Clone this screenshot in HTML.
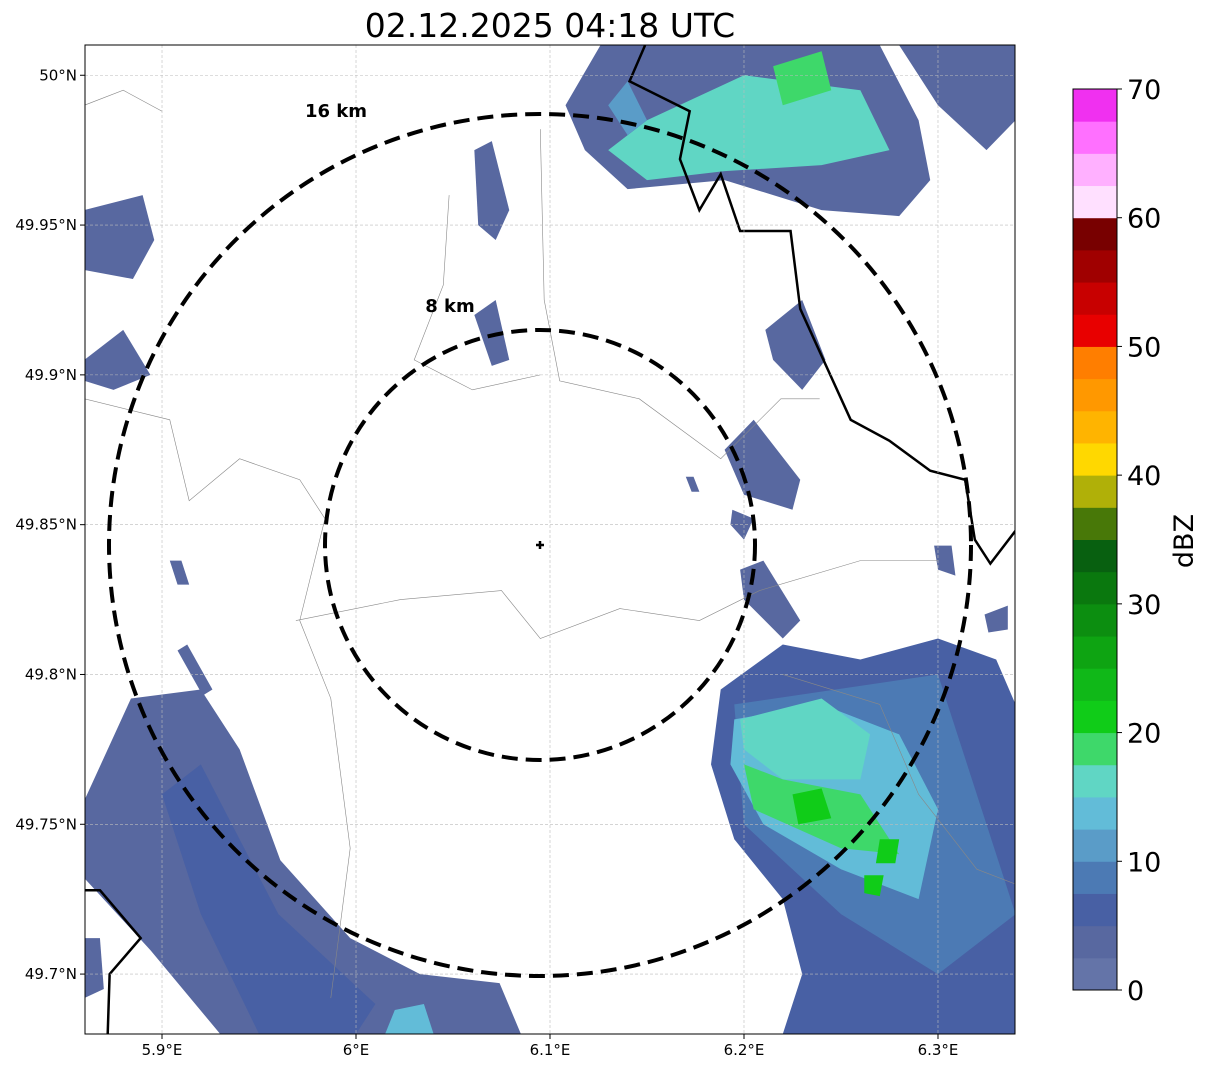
<!DOCTYPE html>
<html><head><meta charset="utf-8"><style>
body{margin:0;background:#fff;width:1207px;height:1069px;overflow:hidden}
svg{font-family:"DejaVu Sans","Liberation Sans",sans-serif}
</style></head><body>
<svg id="c" width="1207" height="1069"></svg>
<script>
const ticksLon=[5.9,6.0,6.1,6.2,6.3];
const ticksLonLbl=["5.9°E","6°E","6.1°E","6.2°E","6.3°E"];
const ticksLat=[50,49.95,49.9,49.85,49.8,49.75,49.7];
const ticksLatLbl=["50°N","49.95°N","49.9°N","49.85°N","49.8°N","49.75°N","49.7°N"];
const cbarColors=["#6474a8","#5868a0","#4860a4","#4c7ab4","#5a9cc8","#62bcd8","#60d6c4","#3ed86a","#10cc18","#10b818","#0ea412","#0c8e10","#0a780e","#086010","#487808","#b0b008","#ffd800","#ffb400","#ff9800","#ff7e00","#e80000","#c80000","#a00000","#780000","#ffe0ff","#ffb0ff","#ff70ff","#f030f0"];
const cbarTicks=[0,10,20,30,40,50,60,70];
const echoDbz=[3,15,18,3,5,8,14,17,19,21,21,21,3,7,13,3,3,3,3,3,3,3,3,3,3,3,3,3,11,3];
const echoPolys=[
[[6.108,49.99],[6.126,50.010],[6.270,50.010],[6.290,49.985],[6.296,49.965],[6.280,49.953],[6.240,49.955],[6.190,49.965],[6.140,49.962],[6.118,49.975]],
[[6.130,49.975],[6.150,49.985],[6.200,50.000],[6.260,49.995],[6.275,49.975],[6.240,49.970],[6.190,49.968],[6.150,49.965]],
[[6.215,50.003],[6.240,50.008],[6.245,49.995],[6.220,49.99]],
[[6.280,50.010],[6.340,50.010],[6.340,49.985],[6.325,49.975],[6.300,49.990]],
[[6.188,49.795],[6.220,49.810],[6.260,49.805],[6.300,49.812],[6.330,49.805],[6.340,49.790],[6.340,49.680],[6.220,49.680],[6.230,49.700],[6.220,49.725],[6.195,49.745],[6.183,49.770]],
[[6.195,49.790],[6.300,49.800],[6.320,49.760],[6.340,49.720],[6.300,49.700],[6.250,49.720],[6.200,49.750]],
[[6.195,49.785],[6.240,49.790],[6.280,49.780],[6.300,49.755],[6.290,49.725],[6.250,49.735],[6.210,49.750],[6.193,49.770]],
[[6.198,49.785],[6.240,49.792],[6.265,49.78],[6.26,49.765],[6.220,49.765],[6.200,49.775]],
[[6.200,49.770],[6.220,49.765],[6.260,49.760],[6.28,49.740],[6.25,49.742],[6.205,49.755]],
[[6.225,49.760],[6.24,49.762],[6.245,49.752],[6.228,49.750]],
[[6.27,49.745],[6.28,49.745],[6.278,49.737],[6.268,49.737]],
[[6.262,49.733],[6.272,49.733],[6.27,49.726],[6.262,49.727]],
[[5.860,49.758],[5.884,49.792],[5.920,49.795],[5.940,49.775],[5.961,49.738],[5.997,49.712],[6.033,49.700],[6.074,49.697],[6.085,49.680],[5.930,49.680],[5.894,49.708],[5.860,49.732]],
[[5.900,49.760],[5.920,49.770],[5.960,49.720],[6.010,49.690],[6.000,49.680],[5.950,49.680],[5.920,49.720]],
[[6.015,49.680],[6.020,49.688],[6.035,49.690],[6.040,49.680]],
[[5.860,49.955],[5.890,49.960],[5.896,49.945],[5.885,49.932],[5.860,49.935]],
[[5.860,49.905],[5.880,49.915],[5.894,49.900],[5.875,49.895],[5.860,49.898]],
[[6.061,49.975],[6.070,49.978],[6.079,49.955],[6.072,49.945],[6.063,49.950]],
[[6.061,49.920],[6.072,49.925],[6.079,49.905],[6.070,49.903]],
[[6.190,49.875],[6.205,49.885],[6.229,49.865],[6.225,49.855],[6.200,49.860]],
[[6.211,49.915],[6.230,49.925],[6.242,49.905],[6.230,49.895],[6.215,49.905]],
[[6.198,49.835],[6.210,49.838],[6.229,49.818],[6.220,49.812],[6.200,49.825]],
[[6.194,49.855],[6.205,49.852],[6.200,49.845],[6.193,49.850]],
[[5.904,49.838],[5.910,49.838],[5.914,49.830],[5.908,49.830]],
[[5.908,49.808],[5.913,49.810],[5.926,49.795],[5.921,49.793]],
[[6.170,49.866],[6.174,49.866],[6.177,49.861],[6.173,49.861]],
[[6.298,49.843],[6.307,49.843],[6.309,49.833],[6.300,49.835]],
[[6.324,49.820],[6.336,49.823],[6.336,49.815],[6.326,49.814]],
[[6.130,49.990],[6.140,49.998],[6.150,49.985],[6.140,49.980]],
[[5.860,49.712],[5.868,49.712],[5.870,49.695],[5.860,49.692]]
];
const borders=[
[[6.149,50.010],[6.141,49.998],[6.172,49.988],[6.167,49.972],[6.177,49.955],[6.188,49.967],[6.198,49.948],[6.224,49.948],[6.229,49.922],[6.255,49.885],[6.275,49.878],[6.296,49.868],[6.314,49.865],[6.319,49.845],[6.327,49.837],[6.340,49.848]],
[[5.860,49.728],[5.868,49.728],[5.889,49.712],[5.873,49.700],[5.872,49.680]]
];
const rivers=[
[[5.969,49.818],[6.023,49.825],[6.075,49.828],[6.095,49.812],[6.136,49.822],[6.177,49.818],[6.208,49.828],[6.260,49.838],[6.300,49.838]],
[[6.095,49.982],[6.097,49.925],[6.105,49.898],[6.146,49.892],[6.188,49.872],[6.219,49.892],[6.239,49.892]],
[[5.860,49.892],[5.904,49.885],[5.914,49.858],[5.940,49.872],[5.971,49.865],[5.984,49.852],[5.971,49.818],[5.987,49.792],[5.997,49.742],[5.987,49.692]],
[[6.048,49.960],[6.045,49.930],[6.030,49.905],[6.060,49.895],[6.095,49.900]],
[[6.220,49.800],[6.270,49.790],[6.290,49.760],[6.320,49.735],[6.340,49.730]],
[[5.860,49.990],[5.880,49.995],[5.900,49.988]]
];
const LON0=5.8603,LON1=6.3397,LAT0=49.68,LAT1=50.0101;
const X0=85,X1=1015,Y0=45,Y1=1034;
const sx=lon=>X0+(lon-LON0)/(LON1-LON0)*(X1-X0);
const sy=lat=>Y1-(lat-LAT0)/(LAT1-LAT0)*(Y1-Y0);
const NS="http://www.w3.org/2000/svg";
const svg=document.getElementById('c');
function mk(t,a,p){const e=document.createElementNS(NS,t);for(const k in a)e.setAttribute(k,a[k]);(p||svg).appendChild(e);return e;}
const dcol=d=>cbarColors[Math.max(0,Math.min(27,Math.floor(d/2.5)))];
const defs=mk('defs',{});const cp=mk('clipPath',{id:'cp'},defs);mk('rect',{x:X0,y:Y0,width:X1-X0,height:Y1-Y0},cp);
const g=mk('g',{'clip-path':'url(#cp)'});


echoPolys.forEach((p,i)=>{const e=mk('polygon',{points:p.map(q=>sx(q[0])+','+sy(q[1])).join(' '),fill:dcol(echoDbz[i])},g);

});
rivers.forEach(r=>{const e=mk('polyline',{points:r.map(q=>sx(q[0])+','+sy(q[1])).join(' '),fill:'none',stroke:'#888','stroke-width':0.6},g);

});
borders.forEach(r=>{const e=mk('polyline',{points:r.map(q=>sx(q[0])+','+sy(q[1])).join(' '),fill:'none',stroke:'#000','stroke-width':2.5},g);

});
ticksLon.forEach((v,i)=>{const x=sx(v);
mk('line',{x1:x,x2:x,y1:Y0,y2:Y1,stroke:'#bbb','stroke-width':0.6,'stroke-dasharray':'3,2'},g);
mk('line',{x1:x,x2:x,y1:Y1,y2:Y1+5,stroke:'#000'});
const t=mk('text',{x:x,y:Y1+21,'font-size':15,'text-anchor':'middle'});t.textContent=ticksLonLbl[i];

});
ticksLat.forEach((v,i)=>{const y=sy(v);
mk('line',{x1:X0,x2:X1,y1:y,y2:y,stroke:'#bbb','stroke-width':0.6,'stroke-dasharray':'3,2'},g);
mk('line',{x1:X0-5,x2:X0,y1:y,y2:y,stroke:'#000'});
const t=mk('text',{x:X0-8,y:y+5,'font-size':15,'text-anchor':'end'});t.textContent=ticksLatLbl[i];

});
const cx=540,cy=545;
[[215,'ring-8km'],[431,'ring-16km']].forEach(r=>{const e=mk('circle',{cx:cx,cy:cy,r:r[0],fill:'none',stroke:'#000','stroke-width':4,'stroke-dasharray':'16,8'});

});
mk('path',{d:`M${cx-4} ${cy}H${cx+4}M${cx} ${cy-4}V${cy+4}`,stroke:'#000','stroke-width':2.5});
[[336,117,'16 km','label-16km'],[450,312,'8 km','label-8km']].forEach(l=>{const t=mk('text',{x:l[0],y:l[1],'font-size':18,'font-weight':'bold','text-anchor':'middle'});t.textContent=l[2];

});
mk('rect',{x:X0,y:Y0,width:X1-X0,height:Y1-Y0,fill:'none',stroke:'#000','stroke-width':1});
const title=mk('text',{x:550,y:37,'font-size':33,'text-anchor':'middle'});title.textContent='02.12.2025 04:18 UTC';


const CB0=990,CB1=89,CBX=1073,CBW=44;
const cy_=v=>CB0+(v/70)*(CB1-CB0);
cbarColors.forEach((c,i)=>{const e=mk('rect',{x:CBX,y:cy_((i+1)*2.5),width:CBW,height:cy_(i*2.5)-cy_((i+1)*2.5)+0.5,fill:c});

});
mk('rect',{x:CBX,y:CB1,width:CBW,height:CB0-CB1,fill:'none',stroke:'#000','stroke-width':1});
cbarTicks.forEach(v=>{const y=cy_(v);mk('line',{x1:CBX+CBW,x2:CBX+CBW+5,y1:y,y2:y,stroke:'#000'});
const t=mk('text',{x:CBX+CBW+10,y:y+10,'font-size':27});t.textContent=v;

});
const cl=mk('text',{x:1193,y:541,'font-size':27,'text-anchor':'middle',transform:'rotate(-90 1193 541)'});cl.textContent='dBZ';


</script>
</body></html>
